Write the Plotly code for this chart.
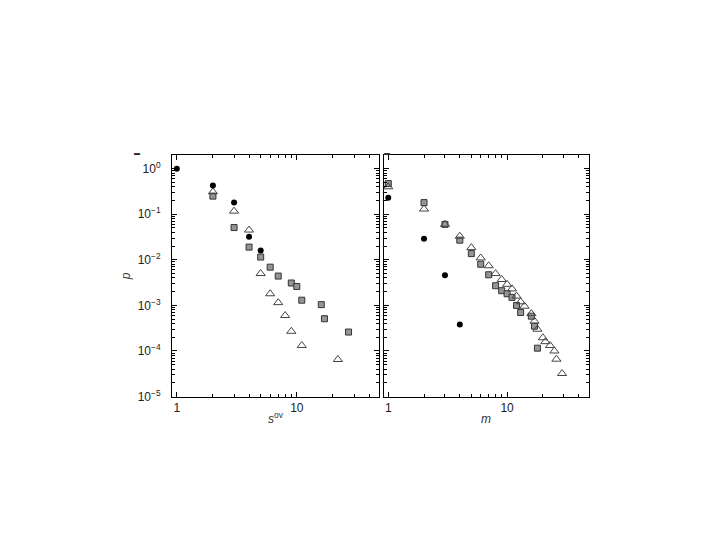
import plotly.graph_objects as go

# ---- Data: left panel (s^ov) ----
a_circ_x = [1, 2, 3, 4, 5]
a_circ_y = [1.0, 0.43, 0.18, 0.032, 0.016]
a_tri_x = [2, 3, 4, 5, 6, 7, 8, 9, 11, 22]
a_tri_y = [0.31, 0.117, 0.045, 0.005, 0.0018, 0.00115, 0.0006, 0.00027, 0.000132, 0.000065]
a_sq_x = [2, 3, 4, 5, 6, 7, 9, 10, 11, 16, 17, 27]
a_sq_y = [0.25, 0.051, 0.019, 0.0115, 0.0069, 0.0044, 0.0031, 0.0026, 0.0013, 0.00104, 0.00051, 0.00026]

# ---- Data: right panel (m) ----
b_circ_x = [1, 2, 3, 4]
b_circ_y = [0.23, 0.029, 0.0046, 0.00038]
b_tri_x = [1, 2, 3, 4, 5, 6, 7, 8, 9, 10, 11, 12, 13, 14, 16, 17, 18, 20, 21, 23, 25, 26, 29]
b_tri_y = [0.40, 0.13, 0.06, 0.033, 0.0185, 0.011, 0.0074, 0.005, 0.0037, 0.0029, 0.0023, 0.0016,
           0.0012, 0.00096, 0.00066, 0.00045, 0.0003, 0.000195, 0.00016, 0.000132, 0.0001, 0.000066, 0.000032]
b_sq_x = [1, 2, 3, 4, 5, 6, 7, 8, 9, 10, 11, 12, 13, 16, 17, 18]
b_sq_y = [0.47, 0.18, 0.06, 0.027, 0.0137, 0.008, 0.0047, 0.0027, 0.0021, 0.0018, 0.0015, 0.001,
          0.0007, 0.00058, 0.00035, 0.000115]

y_tickvals = [1, 0.1, 0.01, 0.001, 0.0001, 0.00001]
y_ticktext = ["10<sup>0</sup>", "10<sup>−1</sup>", "10<sup>−2</sup>", "10<sup>−3</sup>",
              "10<sup>−4</sup>", "10<sup>−5</sup>"]
x_tickvals = [1, 10]
x_ticktext = ["1", "10"]
x_minor = [2, 3, 4, 5, 6, 7, 8, 9, 20, 30, 40]
y_minor = [m * 10.0 ** e for e in range(-5, 1) for m in (2, 3, 4, 5, 6, 7, 8, 9)]

FONT = "Liberation Sans, Arial, sans-serif"
W, H, OFF = 720, 540, 8  # page body margin offset


def px(x):
    return (x - OFF) / W


def py(y):
    return 1 - (y - OFF) / H


circ_style = dict(symbol="circle", size=6, color="black", line=dict(width=0))
tri_style = dict(symbol="triangle-up-open", size=8, color="#444444", line=dict(width=1))
sq_style = dict(symbol="square", size=6, color="#959595", line=dict(width=1, color="#333333"))

fig = go.Figure()
for xa, ya, cx, cy, tx, ty, sx, sy in [
    ("x", "y", a_circ_x, a_circ_y, a_tri_x, a_tri_y, a_sq_x, a_sq_y),
    ("x2", "y2", b_circ_x, b_circ_y, b_tri_x, b_tri_y, b_sq_x, b_sq_y),
]:
    fig.add_trace(go.Scatter(x=sx, y=sy, mode="markers", marker=sq_style, xaxis=xa, yaxis=ya))
    fig.add_trace(go.Scatter(x=tx, y=ty, mode="markers", marker=tri_style, xaxis=xa, yaxis=ya))
    fig.add_trace(go.Scatter(x=cx, y=cy, mode="markers", marker=circ_style, xaxis=xa, yaxis=ya))

common_x = dict(type="log", range=[-0.04, 1.685], showgrid=False, zeroline=False,
                showline=True, linecolor="black", linewidth=1, mirror="ticks",
                ticks="inside", ticklen=5, tickcolor="black", automargin=False,
                tickmode="array", tickvals=x_tickvals, ticktext=x_ticktext,
                tickfont=dict(family=FONT, size=12, color="#222"),
                minor=dict(ticks="inside", ticklen=3, tickcolor="black", showgrid=False,
                           tickmode="array", tickvals=x_minor))
common_y = dict(type="log", range=[-5.01, 0.3], showgrid=False, zeroline=False,
                showline=True, linecolor="black", linewidth=1, mirror="ticks",
                ticks="inside", ticklen=5, tickcolor="black", automargin=False,
                tickmode="array", tickvals=y_tickvals,
                tickfont=dict(family=FONT, size=12, color="#222"),
                minor=dict(ticks="inside", ticklen=3, tickcolor="black", showgrid=False,
                           tickmode="array", tickvals=y_minor))

fig.update_layout(
    width=W, height=H,
    margin=dict(l=0, r=0, t=0, b=0),
    paper_bgcolor="white", plot_bgcolor="white",
    showlegend=False,
    xaxis=dict(common_x, domain=[px(172), px(379)], anchor="y",
               title=dict(text="<i>s</i><sup>ov</sup>", font=dict(family=FONT, size=12, color="#333"), standoff=0)),
    yaxis=dict(common_y, domain=[py(397), py(155)], anchor="x", ticktext=y_ticktext,
               ticklabelstandoff=8,
               title=dict(text="<i>p</i>", font=dict(family=FONT, size=12, color="#333"), standoff=4)),
    xaxis2=dict(common_x, domain=[px(383.5), px(588.5)], anchor="y2",
                title=dict(text="<i>m</i>", font=dict(family=FONT, size=12, color="#333"), standoff=0)),
    yaxis2=dict(common_y, domain=[py(397), py(155)], anchor="x2", showticklabels=False),
    annotations=[
        dict(text="▬", x=px(132), y=py(147), xref="paper", yref="paper", showarrow=False,
             font=dict(size=6, color="#222")),
        dict(text="▬", x=px(387), y=py(147), xref="paper", yref="paper", showarrow=False,
             font=dict(size=6, color="#222")),
    ],
)

fig.write_html("out.html")
